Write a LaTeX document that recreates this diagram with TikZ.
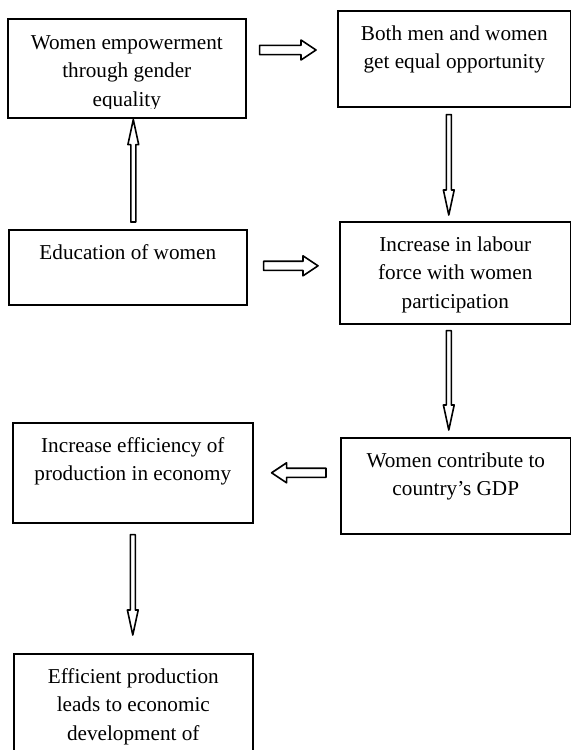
\documentclass[tikz,border=0pt]{standalone}
\usepackage{fontspec}
\setmainfont{Liberation Serif}
\usetikzlibrary{calc}
\tikzset{
  box/.style={draw, line width=0.8pt, inner sep=0pt, anchor=north west},
  txt/.style={anchor=north, align=center, inner sep=0pt, font=\fontsize{10.6}{14.25}\selectfont},
  blockarrow/.style n args={3}{draw, line width=0.8pt, line join=round, to path={
    let \p1=(\tikztostart), \p2=(\tikztotarget),
        \n1={veclen(\x2-\x1,\y2-\y1)},
        \n2={(\x2-\x1)/\n1}, \n3={(\y2-\y1)/\n1} in
    ({\x1-(#1)*\n3},{\y1+(#1)*\n2})
    -- ({\x1+(\n1-(#3))*\n2-(#1)*\n3},{\y1+(\n1-(#3))*\n3+(#1)*\n2})
    -- ({\x1+(\n1-(#3))*\n2-(#2)*\n3},{\y1+(\n1-(#3))*\n3+(#2)*\n2})
    -- (\p2)
    -- ({\x1+(\n1-(#3))*\n2+(#2)*\n3},{\y1+(\n1-(#3))*\n3-(#2)*\n2})
    -- ({\x1+(\n1-(#3))*\n2+(#1)*\n3},{\y1+(\n1-(#3))*\n3-(#1)*\n2})
    -- ({\x1+(#1)*\n3},{\y1-(#1)*\n2})
    -- cycle
  }},
  harrow/.style={blockarrow={2.3pt}{5pt}{7.5pt}},
  varrow/.style={blockarrow={1.25pt}{2.7pt}{12.5pt}},
}
\begin{document}
\begin{tikzpicture}[x=0.5pt, y=-0.5pt]
\useasboundingbox (0,0) rectangle (571,750);
\clip (0,0) rectangle (571,750);

% boxes
\node[box, minimum width=119pt,   minimum height=49.5pt] (A) at (7,18)   {};
\node[box, minimum width=116.5pt, minimum height=48pt]   (B) at (337,10) {};
\node[box, minimum width=119pt,   minimum height=37.5pt] (C) at (8,229)  {};
\node[box, minimum width=115.5pt, minimum height=51pt]   (D) at (339,221){};
\node[box, minimum width=120pt,   minimum height=50pt]   (E) at (12,422) {};
\node[box, minimum width=115pt,   minimum height=48pt]   (F) at (340,437){};
\node[box, minimum width=119.5pt, minimum height=65pt]   (G) at (13,653) {};

% texts
\begin{scope}
\clip (A.north west) rectangle ($(A.south east)+(0,-10)$);
\node[txt] (At) at ([yshift=-5.5pt]A.north) {\strut Women empowerment\\through gender\\equality};
\end{scope}
\node[txt] (Bt) at ([yshift=-5pt]B.north) {\strut Both men and women\\get equal opportunity};
\node[txt] (Ct) at ([yshift=-5pt]C.north) {\strut Education of women};
\node[txt] (Dt) at ([yshift=-5pt]D.north) {\strut Increase in labour\\force with women\\participation};
\node[txt] (Et) at ([yshift=-5pt]E.north) {\strut Increase efficiency of\\production in economy};
\node[txt] (Ft) at ([yshift=-5pt]F.north) {\strut Women contribute to\\country’s GDP};
\node[txt] (Gt) at ([yshift=-5pt]G.north) {\strut Efficient production\\leads to economic\\development of};

% arrows
\draw[harrow] ($(A.north east)+(13,32)$) to ($(B.north west)+(-21,40)$);
\draw[varrow] ($(C.north)+(5.5,-7)$) to ($(A.south)+(6.5,1)$);
\draw[varrow] ($(B.south)+(-5.5,7)$) to ($(D.north)+(-6.5,-6)$);
\draw[harrow] ($(C.east)+(16,-1.5)$) to ($(D.west)+(-21,-7)$);
\draw[varrow] ($(D.south)+(-6.5,6)$) to ($(F.north)+(-7,-7)$);
\draw[harrow] ($(F.west)+(-14,-13)$) to ($(E.east)+(18,0)$);
\draw[varrow] ($(E.south)+(0,11)$) to ($(G.north)+(-0.5,-18)$);
\end{tikzpicture}
\end{document}
